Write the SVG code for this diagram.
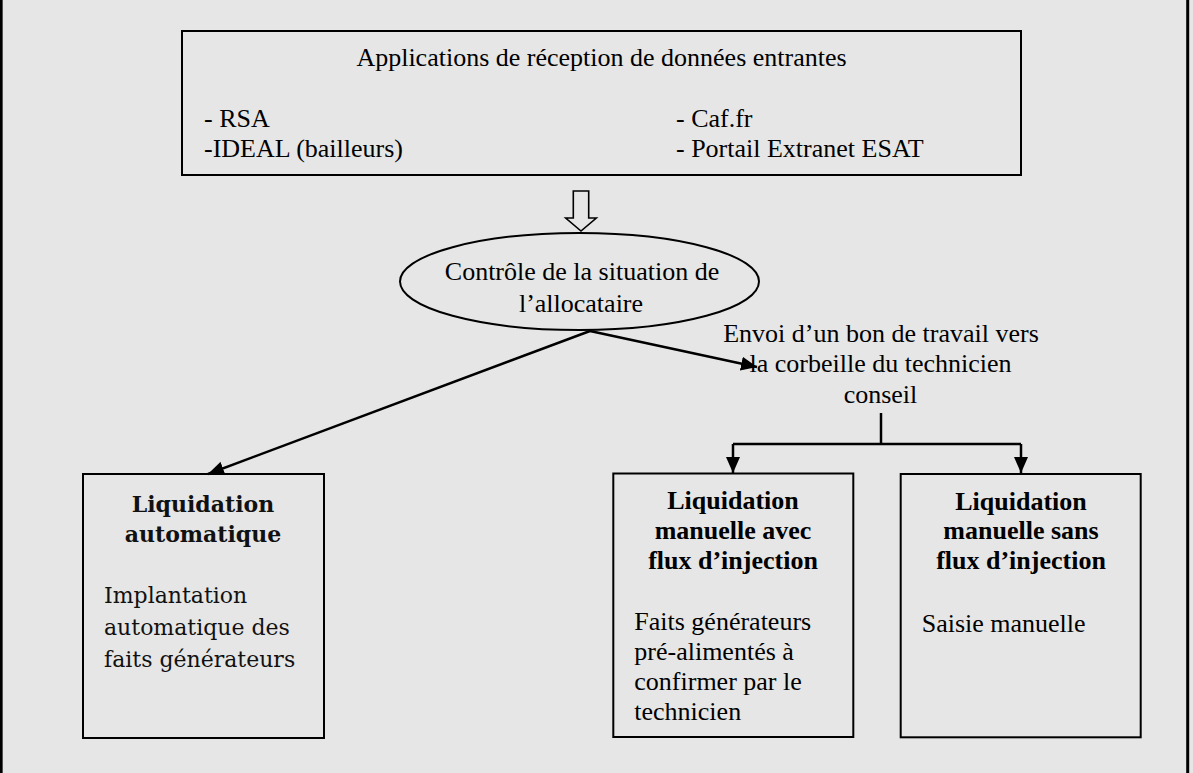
<svg xmlns="http://www.w3.org/2000/svg" width="1193" height="773" viewBox="0 0 1193 773">
<defs>
<style>
.bg{fill:#e6e6e6}
.box{fill:none;stroke:#000;stroke-width:2}
.t{font-family:"Liberation Serif","Times New Roman",serif;font-size:26px;fill:#000}
.b{font-weight:bold}
.m{text-anchor:middle}
.c{font-family:"DejaVu Serif",Cambria,serif;font-size:22px;fill:#111}
.conn{fill:none;stroke:#000;stroke-width:2.5}
</style>
<marker id="ah" markerUnits="userSpaceOnUse" markerWidth="18" markerHeight="14" refX="16" refY="7" orient="auto">
<path d="M0,0 L16,7 L0,14 Z" fill="#000"/>
</marker>
</defs>
<rect class="bg" x="0" y="0" width="1193" height="773"/>
<g id="frame">
<line x1="1.3" y1="0" x2="1.3" y2="773" stroke="#000" stroke-width="2.7"/>
<line x1="1187.7" y1="0" x2="1187.7" y2="773" stroke="#000" stroke-width="3"/>
</g>
<g id="node-sources">
<rect class="box" x="182" y="31" width="839" height="144"/>
<text class="t m" x="601.5" y="66">Applications de réception de données entrantes</text>
<text class="t" x="204" y="127">- RSA</text>
<text class="t" x="204" y="157">-IDEAL (bailleurs)</text>
<text class="t" x="676" y="127">- Caf.fr</text>
<text class="t" x="676" y="157">- Portail Extranet ESAT</text>
</g>
<g id="node-controle">
<ellipse class="box" cx="579.5" cy="281.5" rx="179.5" ry="48.5"/>
<text class="t m" x="582" y="280">Contrôle de la situation de</text>
<text class="t m" x="581" y="311.7">l’allocataire</text>
</g>
<g id="label-envoi">
<text class="t m" x="881" y="341.7">Envoi d’un bon de travail vers</text>
<text class="t m" x="880.5" y="371.7">la corbeille du technicien</text>
<text class="t m" x="880.5" y="403">conseil</text>
</g>
<g id="node-auto">
<rect class="box" x="83" y="474" width="241" height="264"/>
<text class="c b m" x="203" y="511.7">Liquidation</text>
<text class="c b m" x="203" y="541.7">automatique</text>
<text class="c" x="104" y="603">Implantation</text>
<text class="c" x="104" y="635">automatique des</text>
<text class="c" x="104" y="666.7">faits générateurs</text>
</g>
<g id="node-avec">
<rect class="box" x="613.3" y="473.5" width="240" height="263.5"/>
<text class="t b m" x="733" y="508.5">Liquidation</text>
<text class="t b m" x="733" y="539">manuelle avec</text>
<text class="t b m" x="733" y="569">flux d’injection</text>
<text class="t" x="634.3" y="630">Faits générateurs</text>
<text class="t" x="634.3" y="660">pré-alimentés à</text>
<text class="t" x="634.3" y="690">confirmer par le</text>
<text class="t" x="634.3" y="720">technicien</text>
</g>
<g id="node-sans">
<rect class="box" x="900.7" y="474" width="240" height="263.3"/>
<text class="t b m" x="1021" y="510">Liquidation</text>
<text class="t b m" x="1021" y="539.3">manuelle sans</text>
<text class="t b m" x="1021" y="569.3">flux d’injection</text>
<text class="t" x="921.7" y="632.3">Saisie manuelle</text>
</g>
<g id="connectors">
<path d="M573.3,191 H588.7 V218 H596.3 L581,231 L565.7,218 H573.3 Z" fill="none" stroke="#000" stroke-width="1.6" stroke-linejoin="miter"/>
<line class="conn" x1="590" y1="331" x2="208" y2="474" marker-end="url(#ah)"/>
<line class="conn" x1="590" y1="331" x2="757" y2="367" marker-end="url(#ah)"/>
<path class="conn" d="M881,413 V444"/>
<path class="conn" d="M733,444 H1021"/>
<path class="conn" d="M733,444 V473" marker-end="url(#ah)"/>
<path class="conn" d="M1021,444 V473" marker-end="url(#ah)"/>
</g>
</svg>
